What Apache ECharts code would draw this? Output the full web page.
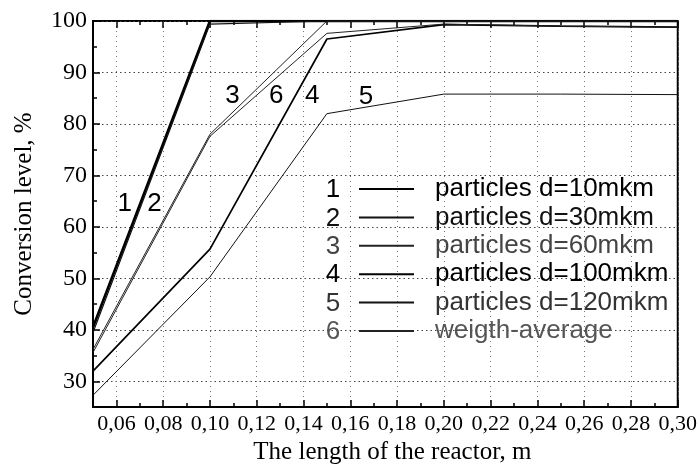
<!DOCTYPE html>
<html><head><meta charset="utf-8">
<script src="https://cdn.jsdelivr.net/npm/echarts@6/dist/echarts.min.js"></script>
<style>html,body{margin:0;padding:0;background:#fff}#c{width:700px;height:470px}</style>
</head><body><div id="c"></div>
<script>
// ---- data ----
const lengths = [0.05, 0.10, 0.15, 0.20, 0.25, 0.30];
const d10  = [40.5, 100.0, 100.0, 100.0, 100.0, 100.0];
const d30  = [39.5, 99.4, 100.0, 100.0, 100.0, 100.0];
const d60  = [36.2, 78.0, 100.0, 100.0, 100.0, 100.0];
const d100 = [32.0, 55.7, 96.5, 99.3, 99.0, 98.8];
const d120 = [27.3, 50.3, 82.0, 85.8, 85.8, 85.7];
const wavg = [35.6, 77.6, 97.6, 99.4, 99.0, 98.8];

const seriesNames = ['particles d=10mkm', 'particles d=30mkm', 'particles d=60mkm',
                     'particles d=100mkm', 'particles d=120mkm', 'weigth-average'];
const seriesNums = ['1', '2', '3', '4', '5', '6'];

const xMajor = [0.06, 0.08, 0.10, 0.12, 0.14, 0.16, 0.18, 0.20, 0.22, 0.24, 0.26, 0.28, 0.30];
const xMinor = [0.07, 0.09, 0.11, 0.13, 0.15, 0.17, 0.19, 0.21, 0.23, 0.25, 0.27, 0.29];
const yMajor = [30, 40, 50, 60, 70, 80, 90, 100];
const yMinor = [35, 45, 55, 65, 75, 85, 95];

const curveLabels = ['1', '2', '3', '6', '4', '5'];
const curveLabelX = [0.0636, 0.0763, 0.1096, 0.1283, 0.1437, 0.1667];
const curveLabelY = [64.4, 64.4, 85.5, 85.5, 85.5, 85.3];

// ---- styling ----
const values = [d10, d30, d60, d100, d120, wavg];
const lineW = [2.6, 1.2, 1.0, 1.7, 1.0, 1.0];
const lineC = ['#000', '#111', '#222', '#000', '#111', '#222'];
const textC = ['#000', '#111', '#444', '#000', '#333', '#555'];

const SERIF = '"Liberation Serif", "DejaVu Serif", serif';
const SANS = '"Liberation Sans", Arial, sans-serif';
const fmt = v => v.toFixed(2).replace('.', ',');

const chart = echarts.init(document.getElementById('c'));

const lineSeries = values.map((vals, i) => ({
  name: seriesNames[i],
  type: 'line',
  symbol: 'none',
  xAxisIndex: 0, yAxisIndex: 0,
  lineStyle: { color: lineC[i], width: lineW[i] },
  itemStyle: { color: lineC[i] },
  data: lengths.map((x, j) => [x, vals[j]]),
  z: 3
}));

const labelSeries = {
  name: 'curve labels',
  type: 'scatter',
  symbolSize: 1,
  itemStyle: { color: 'rgba(0,0,0,0)' },
  silent: true,
  xAxisIndex: 0, yAxisIndex: 0,
  data: curveLabels.map((t, i) => [curveLabelX[i], curveLabelY[i], t]),
  label: {
    show: true, position: 'inside',
    formatter: p => p.value[2],
    fontFamily: SANS, fontSize: 26, color: '#000', opacity: 1
  },
  z: 4
};

const xBase = { type: 'value', min: 0.05, max: 0.30, gridIndex: 0 };
const yBase = { type: 'value', min: 25, max: 100, gridIndex: 0 };

const option = {
  animation: false,
  backgroundColor: '#fff',
  grid: { left: 93, right: 20, top: 21, bottom: 61, show: true, borderColor: '#000', borderWidth: 2, backgroundColor: 'transparent' },
  legend: {
    orient: 'vertical', left: 358, top: 176, padding: 0,
    itemWidth: 55, itemHeight: 2, itemGap: 2.4,
    itemStyle: { opacity: 0 },
    textStyle: { fontFamily: SANS, fontSize: 26, lineHeight: 26, padding: [0, 0, 0, 16] },
    data: seriesNames.map((n, i) => ({ name: n, textStyle: { color: textC[i] } })),
    selectedMode: false
  },
  graphic: seriesNums.map((t, i) => ({
    type: 'text', x: 333, y: 190 + 28.4 * i, z: 10,
    style: { text: t, font: '26px ' + SANS, fill: textC[i], align: 'center', verticalAlign: 'middle' }
  })),
  xAxis: [
    Object.assign({}, xBase, {
      position: 'bottom',
      name: 'The length of the reactor, m', nameLocation: 'middle', nameGap: 32,
      nameTextStyle: { fontFamily: SERIF, fontSize: 25, color: '#000', padding: [0, 0, 0, 14] },
      axisLine: { show: true, onZero: false, lineStyle: { color: '#000', width: 2 } },
      axisTick: { show: true, inside: true, length: 7, customValues: xMajor, lineStyle: { color: '#000', width: 1.5 } },
      axisLabel: { show: true, customValues: xMajor, formatter: fmt, fontFamily: SERIF, fontSize: 22, color: '#000', margin: 6 },
      splitLine: { show: true, lineStyle: { color: '#777', width: 1, type: [1, 4] } }
    }),
    Object.assign({}, xBase, {
      position: 'bottom',
      axisLine: { show: false },
      axisTick: { show: true, inside: true, length: 4, customValues: xMinor, lineStyle: { color: '#000', width: 1.5 } },
      axisLabel: { show: false }, splitLine: { show: false }
    }),
    Object.assign({}, xBase, {
      position: 'top',
      axisLine: { show: false },
      axisTick: { show: true, inside: true, length: 7, customValues: xMajor, lineStyle: { color: '#000', width: 1.5 } },
      axisLabel: { show: false }, splitLine: { show: false }
    }),
    Object.assign({}, xBase, {
      position: 'top',
      axisLine: { show: false },
      axisTick: { show: true, inside: true, length: 4, customValues: xMinor, lineStyle: { color: '#000', width: 1.5 } },
      axisLabel: { show: false }, splitLine: { show: false }
    })
  ],
  yAxis: [
    Object.assign({}, yBase, {
      position: 'left',
      name: 'Conversion level, %', nameLocation: 'middle', nameGap: 56,
      nameTextStyle: { fontFamily: SERIF, fontSize: 25, color: '#000' },
      axisLine: { show: true, onZero: false, lineStyle: { color: '#000', width: 2 } },
      axisTick: { show: true, inside: true, length: 7, customValues: yMajor, lineStyle: { color: '#000', width: 1.5 } },
      axisLabel: { show: true, customValues: yMajor, fontFamily: SERIF, fontSize: 24, color: '#000', margin: 6 },
      splitLine: { show: true, lineStyle: { color: '#444', width: 1, type: [1.5, 3] } }
    }),
    Object.assign({}, yBase, {
      position: 'left',
      axisLine: { show: false },
      axisTick: { show: true, inside: true, length: 4, customValues: yMinor, lineStyle: { color: '#000', width: 1.5 } },
      axisLabel: { show: false }, splitLine: { show: false }
    })
  ],
  series: lineSeries.concat([labelSeries])
};

chart.setOption(option);
</script>
</body></html>
